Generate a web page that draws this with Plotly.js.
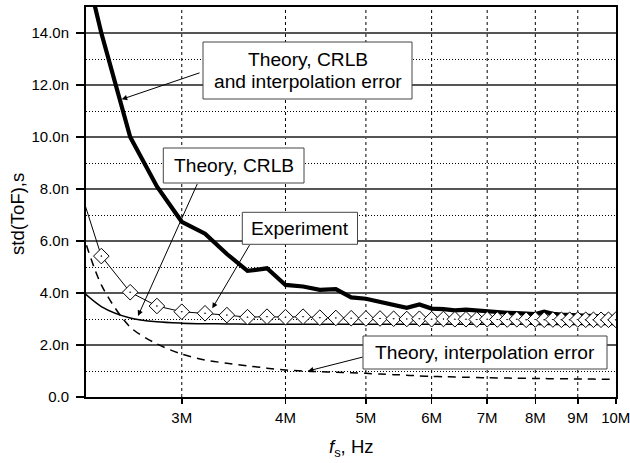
<!DOCTYPE html>
<html>
<head>
<meta charset="utf-8">
<script src="https://cdn.plot.ly/plotly-3.0.1.min.js"></script>
<style>html,body{margin:0;padding:0;background:#fff;}#chart{width:630px;height:463px;}</style>
</head>
<body>
<div id="chart"></div>
<script>
// Sampling frequency, MHz
var freqMHz = [2.2,2.4,2.6,2.8,3.0,3.2,3.4,3.6,3.8,4.0,4.2,4.4,4.6,4.8,5.0,5.2,5.4,5.6,5.8,6.0,
               6.2,6.4,6.6,6.8,7.0,7.2,7.4,7.6,7.8,8.0,8.2,8.4,8.6,8.8,9.0,9.2,9.4,9.6,9.8,10.0];
// std(ToF), ns
var theoryCrlbInterp = [19.0,14.0,10.0,8.1,6.74,6.28,5.5,4.85,4.95,4.31,4.25,4.12,4.15,3.83,3.78,3.66,3.55,3.43,3.56,3.40,
                        3.38,3.33,3.36,3.32,3.28,3.27,3.24,3.23,3.21,3.19,3.28,3.20,3.17,3.15,3.13,3.12,3.10,3.09,3.08,3.07];
var experiment = [9.2,5.42,4.03,3.50,3.28,3.22,3.15,3.07,3.09,3.07,3.09,3.05,3.04,3.03,3.02,3.02,3.01,3.00,3.01,2.99,
                  3.00,2.99,2.99,2.98,2.99,2.98,2.98,2.99,2.97,2.98,2.97,2.98,2.97,2.97,2.98,2.97,2.97,2.97,2.97,2.97];
var theoryCrlb = [4.5,3.48,3.04,2.89,2.84,2.82,2.81,2.80,2.80,2.80,2.80,2.80,2.80,2.80,2.80,2.80,2.80,2.80,2.80,2.80,
                  2.80,2.80,2.80,2.80,2.80,2.80,2.80,2.80,2.80,2.79,2.79,2.79,2.79,2.79,2.79,2.79,2.79,2.79,2.79,2.79];
var theoryInterp = [7.9,4.31,2.69,2.04,1.65,1.42,1.30,1.20,1.11,1.04,1.00,0.97,0.95,0.93,0.91,0.88,0.86,0.84,0.81,0.79,
                    0.78,0.77,0.76,0.75,0.74,0.73,0.73,0.72,0.72,0.71,0.71,0.70,0.70,0.70,0.69,0.69,0.69,0.68,0.68,0.68];
var xTickVals = [3,4,5,6,7,8,9,10];
var xTickText = ["3M","4M","5M","6M","7M","8M","9M","10M"];
var yTickVals = [0,2,4,6,8,10,12,14];
var yTickText = ["0.0","2.0n","4.0n","6.0n","8.0n","10.0n","12.0n","14.0n"];

var FONT = "Liberation Sans, Arial, sans-serif";
var L = 86, R = 616, T = 7, B = 397, W = 630, H = 463;
var XR = [Math.log10(2.3), 1.0003];
function px(x){ return (x - L) / (R - L); }
function py(y){ return (B - y) / (B - T); }

var traces = [
  {x: freqMHz, y: theoryInterp, mode: 'lines', line: {color: '#000', width: 1.5, dash: '8px,6px', shape: 'spline', smoothing: 0.8}},
  {x: freqMHz, y: theoryCrlb, mode: 'lines', line: {color: '#000', width: 1.5, shape: 'spline', smoothing: 0.8}},
  {x: freqMHz, y: theoryCrlbInterp, mode: 'lines', line: {color: '#000', width: 4.2}},
  {x: freqMHz, y: experiment, mode: 'lines+markers', line: {color: '#000', width: 1},
   marker: {symbol: 'diamond-dot', size: 12, color: '#fff', line: {color: '#000', width: 1}}}
];

function box(x0, y0, x1, y1){
  return {type: 'rect', xref: 'paper', yref: 'paper', x0: px(x0), x1: px(x1), y0: py(y1), y1: py(y0),
          fillcolor: '#fff', line: {color: '#444', width: 1}, layer: 'above'};
}
function label(text, cx, cy){
  return {xref: 'paper', yref: 'paper', x: px(cx), y: py(cy), xanchor: 'center', yanchor: 'middle',
          text: text, showarrow: false, font: {family: FONT, size: 19.2, color: '#000'}};
}
function arrow(hx, hy, tx, ty){
  return {xref: 'paper', yref: 'paper', x: px(hx), y: py(hy), axref: 'pixel', ayref: 'pixel',
          ax: tx - hx, ay: ty - hy, text: ' ', font: {size: 1}, borderpad: 0,
          showarrow: true, arrowhead: 2, arrowsize: 1.1, arrowwidth: 1, arrowcolor: '#000', standoff: 0};
}
// vertical dotted grid lines at the x tick positions, placed from the log axis range
var vgrid = xTickVals.slice(0, xTickVals.length - 1).map(function(v){
  var f = (Math.log10(v) - XR[0]) / (XR[1] - XR[0]);
  return {type: 'line', xref: 'paper', yref: 'paper', x0: f, x1: f, y0: 0, y1: 1,
          line: {color: '#000', width: 1, dash: 'dot'}, layer: 'between'};
});

var layout = {
  width: W, height: H,
  margin: {l: L, r: W - R, t: T, b: H - B},
  paper_bgcolor: '#fff', plot_bgcolor: 'rgba(0,0,0,0)',
  showlegend: false,
  font: {family: FONT, size: 15, color: '#000'},
  xaxis: {type: 'log', range: XR, tickmode: 'array', tickvals: xTickVals, ticktext: xTickText,
          ticks: 'outside', ticklen: 5, tickwidth: 1.5, tickcolor: '#000', ticklabelstandoff: 1,
          ticklabeloverflow: 'allow',
          showline: true, linecolor: '#000', linewidth: 2, mirror: true,
          showgrid: false, zeroline: false,
          tickfont: {family: FONT, size: 15}},
  yaxis: {range: [0, 15], tickmode: 'array', tickvals: yTickVals, ticktext: yTickText,
          ticks: 'outside', ticklen: 8, tickwidth: 1.5, tickcolor: '#000', ticklabelstandoff: 4,
          showline: true, linecolor: '#000', linewidth: 2, mirror: true,
          showgrid: true, gridcolor: '#555', gridwidth: 1.5, zeroline: false,
          minor: {tickmode: 'linear', tick0: 0, dtick: 1, showgrid: true, gridcolor: '#000', gridwidth: 1, griddash: '1px,2px'},
          tickfont: {family: FONT, size: 15}},
  shapes: vgrid.concat([
    box(203, 42, 412, 99),
    box(163.3, 148, 304, 183),
    box(242.3, 212.3, 357.5, 244.3),
    box(363, 336, 607, 369)
  ]),
  annotations: [
    arrow(121.7, 99.3, 200, 72.7),
    arrow(138, 316, 197.7, 183),
    arrow(212.3, 308.3, 250, 244.3),
    arrow(308, 371, 363, 357),
    label('Theory, CRLB', 308, 59.5),
    label('and interpolation error', 308, 81),
    label('Theory, CRLB', 233.6, 165.5),
    label('Experiment', 300, 228.3),
    label('Theory, interpolation error', 485, 352.5),
    {xref: 'paper', yref: 'paper', x: px(17), y: py(214), xanchor: 'center', yanchor: 'middle', textangle: -90,
     text: 'std(ToF),s', showarrow: false, font: {family: FONT, size: 18.5, color: '#000'}},
    {xref: 'paper', yref: 'paper', x: px(351.4), y: py(448), xanchor: 'center', yanchor: 'middle',
     text: '<i>f</i><sub>s</sub>, Hz', showarrow: false, font: {family: FONT, size: 18.5, color: '#000'}}
  ]
};

Plotly.newPlot('chart', traces, layout, {staticPlot: true, displayModeBar: false});
</script>
</body>
</html>
